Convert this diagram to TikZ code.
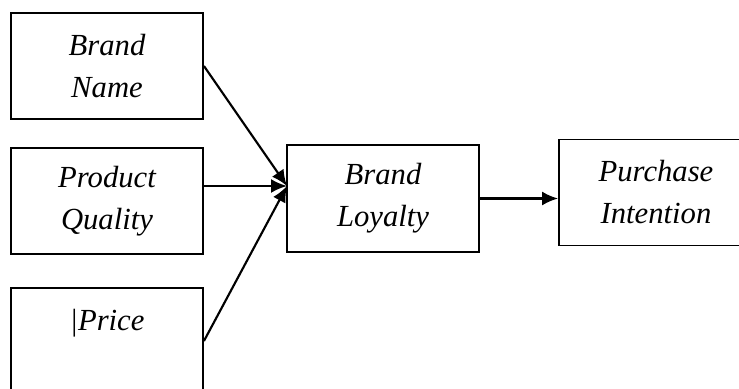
\documentclass[tikz,border=0pt]{standalone}
\usepackage{fontspec}
\setmainfont{Liberation Serif}
\usetikzlibrary{arrows.meta}

\tikzset{
    varbox/.style={draw, fill=white, line width=1.4pt, inner sep=0pt,
        minimum width=144pt, minimum height=79.5pt, align=center,
        font=\fontsize{23}{31.5}\selectfont\itshape},
    arr/.style={line width=1.6pt, -{Latex[length=12pt,width=10.5pt]}}
}

\begin{document}
\begin{tikzpicture}[x=0.75pt, y=-0.75pt]
            \useasboundingbox (0, 0) rectangle (739, 389);
            \clip (0, 0) rectangle (739, 389);

            \node[varbox] (name) at (107, 66) {Brand\\Name};
            \node[varbox] (qual) at (107, 201) {Product\\Quality};
            \node[varbox] (price) at (107, 341) {|Price\\\mbox{}};

            \node[varbox, minimum height=80.25pt] (loyal) at (383, 198.5) {Brand\\Loyalty};
            \node[varbox, minimum width=145.5pt] (purch) at (656, 192.5) {Purchase\\Intention};

            \coordinate (hub) at (287, 186);

            \draw[arr] (name.east) -- (hub);
            \draw[arr] (qual.east |- hub) -- (hub);
            \draw[arr] (price.east) -- (hub);

            \draw[arr] (loyal.east) -- (loyal.east -| purch.west);
        \end{tikzpicture}
\end{document}
